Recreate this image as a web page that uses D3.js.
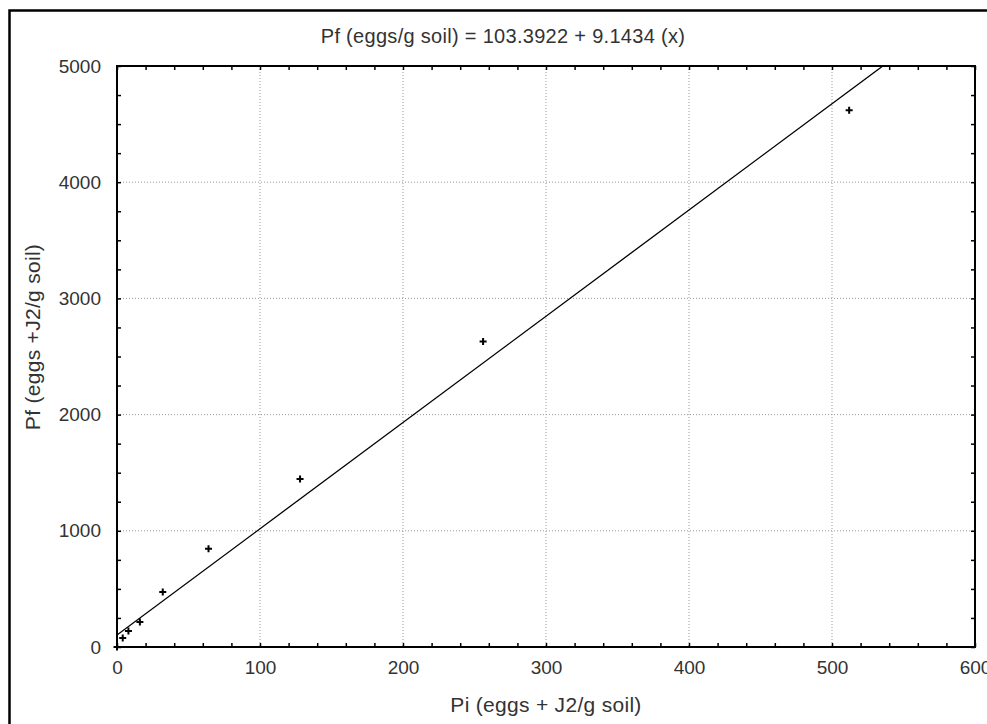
<!DOCTYPE html>
<html>
<head>
<meta charset="utf-8">
<script src="https://cdn.jsdelivr.net/npm/d3@7"></script>
<style>
  body { margin: 0; background: #fff; }
  svg text { font-family: "Liberation Sans", Arial, sans-serif; fill: #333; }
</style>
</head>
<body>
<svg id="chart" width="987" height="724"></svg>
<script>
var piValues = [0, 4, 8, 16, 32, 64, 128, 256, 512];
var pfValues = [0, 77, 138, 215, 473, 845, 1445, 2630, 4620];

// fitted line
var intercept = 103.3922;
var slope = 9.1434;

var xTicks = [0, 100, 200, 300, 400, 500, 600];
var yTicks = [0, 1000, 2000, 3000, 4000, 5000];

var titleText = "Pf (eggs/g soil) = 103.3922 + 9.1434 (x)";
var xLabel = "Pi (eggs + J2/g soil)";
var yLabel = "Pf (eggs +J2/g soil)";

var margin = {top: 66, right: 12, bottom: 77, left: 117};
var width = 987 - margin.left - margin.right;
var height = 724 - margin.top - margin.bottom;

var svg = d3.select("#chart");

// outer frame (partly off the picture)
svg.append("rect")
    .attr("x", 9.5).attr("y", 10.5)
    .attr("width", 1000).attr("height", 800)
    .attr("fill", "none").attr("stroke", "#000").attr("stroke-width", 2.5);

var x = d3.scaleLinear().domain([0, 600]).range([0, width]);
var y = d3.scaleLinear().domain([0, 5000]).range([height, 0]);

var g = svg.append("g")
    .attr("transform", "translate(" + margin.left + "," + margin.top + ")");

// dotted grid at the major ticks
g.selectAll(".gx").data(xTicks.slice(1, -1)).enter().append("line")
    .attr("x1", function(d) { return x(d); }).attr("x2", function(d) { return x(d); })
    .attr("y1", 0).attr("y2", height)
    .attr("stroke", "#999").attr("stroke-dasharray", "1,2");
g.selectAll(".gy").data(yTicks.slice(1, -1)).enter().append("line")
    .attr("y1", function(d) { return y(d); }).attr("y2", function(d) { return y(d); })
    .attr("x1", 0).attr("x2", width)
    .attr("stroke", "#999").attr("stroke-dasharray", "1,2");

// inward ticks on all four sides, minor ones too
var xMinor = d3.range(0, 601, 20);
var yMinor = d3.range(0, 5001, 250);

function tickAxis(axisFn, scale, vals, pos, len) {
    var a = axisFn(scale).tickValues(vals).tickSizeInner(len).tickSizeOuter(0).tickFormat("");
    var sel = g.append("g").attr("transform", pos).call(a);
    sel.select(".domain").remove();
    sel.selectAll(".tick line").attr("stroke", "#000").attr("stroke-width", 1.5);
    return sel;
}
tickAxis(d3.axisBottom, x, xMinor, "translate(0," + height + ")", -4);
tickAxis(d3.axisTop, x, xMinor, "translate(0,0)", -4);
tickAxis(d3.axisLeft, y, yMinor, "translate(0,0)", -4);
tickAxis(d3.axisRight, y, yMinor, "translate(" + width + ",0)", -4);

// tick labels
var fmt = d3.format("d");
var xa = g.append("g").attr("transform", "translate(0," + height + ")")
    .call(d3.axisBottom(x).tickValues(xTicks).tickSize(0).tickPadding(14).tickFormat(fmt));
xa.select(".domain").remove();
xa.selectAll("text").attr("font-size", 19).attr("fill", "#333")
    .style("font-family", "'Liberation Sans', Arial, sans-serif");

var ya = g.append("g")
    .call(d3.axisLeft(y).tickValues(yTicks).tickSize(0).tickPadding(16).tickFormat(fmt));
ya.select(".domain").remove();
ya.selectAll("text").attr("font-size", 19).attr("fill", "#333")
    .style("font-family", "'Liberation Sans', Arial, sans-serif");

// plot frame
g.append("rect").attr("width", width).attr("height", height)
    .attr("fill", "none").attr("stroke", "#000").attr("stroke-width", 2);

// regression line, clipped to the plot
g.append("clipPath").attr("id", "plotClip")
    .append("rect").attr("width", width).attr("height", height);
g.append("line")
    .attr("clip-path", "url(#plotClip)")
    .attr("x1", x(0)).attr("y1", y(intercept))
    .attr("x2", x(600)).attr("y2", y(intercept + slope * 600))
    .attr("stroke", "#000").attr("stroke-width", 1.3);

// + markers
var pts = piValues.map(function(d, i) { return {x: d, y: pfValues[i]}; });
g.selectAll(".pt").data(pts).enter().append("path")
    .attr("transform", function(d) { return "translate(" + x(d.x) + "," + y(d.y) + ")"; })
    .attr("d", "M-3.5,0H3.5M0,-3.5V3.5")
    .attr("stroke", "#000").attr("stroke-width", 2);

// title and axis labels
svg.append("text").attr("x", 503).attr("y", 43)
    .attr("text-anchor", "middle").attr("font-size", 20)
    .attr("letter-spacing", 0.3).text(titleText);
svg.append("text").attr("x", 546).attr("y", 712)
    .attr("text-anchor", "middle").attr("font-size", 21)
    .attr("letter-spacing", 0.3).text(xLabel);
svg.append("text")
    .attr("transform", "translate(40,337) rotate(-90)")
    .attr("text-anchor", "middle").attr("font-size", 21)
    .attr("letter-spacing", 0.3).text(yLabel);
</script>
</body>
</html>
